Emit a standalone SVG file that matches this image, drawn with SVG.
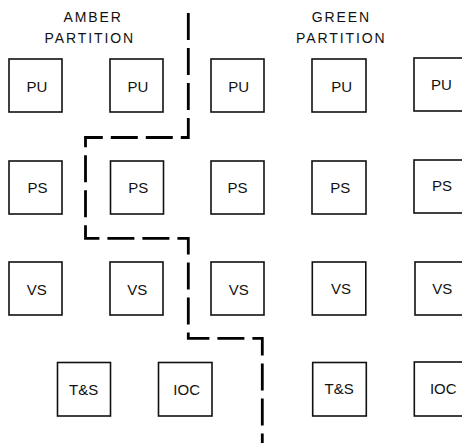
<svg xmlns="http://www.w3.org/2000/svg" width="462" height="443" viewBox="0 0 462 443">
<style>
.box{fill:#fff;stroke:#111;stroke-width:1.6}
.lbl{font-family:"Liberation Sans",Arial,sans-serif;font-size:15px;fill:#111;text-anchor:middle}
.hdr{font-family:"Liberation Sans",Arial,sans-serif;font-size:14px;fill:#111;letter-spacing:1.9px}
.part{fill:none;stroke:#000;stroke-width:2.8;stroke-dasharray:27 8}
</style>
<rect width="462" height="443" fill="#fff"/>
<g id="headers">
<text class="hdr" x="63.5" y="22">AMBER</text>
<text class="hdr" x="44.5" y="42.7">PARTITION</text>
<text class="hdr" x="311.7" y="22">GREEN</text>
<text class="hdr" x="296" y="42.7">PARTITION</text>
</g>
<g id="pu1"><rect class="box" x="9" y="59" width="53" height="53"/><text class="lbl" x="37" y="91.5">PU</text></g>
<g id="pu2"><rect class="box" x="110" y="59" width="53" height="53"/><text class="lbl" x="137.8" y="91.5">PU</text></g>
<g id="pu3"><rect class="box" x="211" y="59" width="53" height="53"/><text class="lbl" x="238.7" y="91.5">PU</text></g>
<g id="pu4"><rect class="box" x="312" y="59" width="54" height="53"/><text class="lbl" x="341.7" y="91.5">PU</text></g>
<g id="pu5"><rect class="box" x="414" y="58" width="54" height="53"/><text class="lbl" x="441.5" y="89.5">PU</text></g>
<g id="ps1"><rect class="box" x="9" y="161" width="53" height="53"/><text class="lbl" x="37.5" y="192.5">PS</text></g>
<g id="ps2"><rect class="box" x="110.5" y="161" width="53" height="53"/><text class="lbl" x="138.3" y="192.5">PS</text></g>
<g id="ps3"><rect class="box" x="211" y="161" width="53" height="53"/><text class="lbl" x="237.5" y="192.5">PS</text></g>
<g id="ps4"><rect class="box" x="312" y="161" width="54" height="53"/><text class="lbl" x="340.3" y="192.5">PS</text></g>
<g id="ps5"><rect class="box" x="414" y="160" width="54" height="53"/><text class="lbl" x="442" y="190.8">PS</text></g>
<g id="vs1"><rect class="box" x="9" y="262" width="53" height="53"/><text class="lbl" x="36.7" y="294.8">VS</text></g>
<g id="vs2"><rect class="box" x="110" y="262" width="53" height="53"/><text class="lbl" x="137.2" y="294.8">VS</text></g>
<g id="vs3"><rect class="box" x="211" y="262" width="53" height="53"/><text class="lbl" x="238.7" y="294.5">VS</text></g>
<g id="vs4"><rect class="box" x="312.3" y="262" width="53.5" height="53"/><text class="lbl" x="341" y="294.3">VS</text></g>
<g id="vs5"><rect class="box" x="415" y="262" width="54" height="53"/><text class="lbl" x="442.3" y="294">VS</text></g>
<g id="ts1"><rect class="box" x="57.5" y="362.5" width="53" height="53.5"/><text class="lbl" x="83.7" y="395">T&amp;S</text></g>
<g id="ioc1"><rect class="box" x="158.5" y="362.5" width="53.5" height="53.5"/><text class="lbl" x="186.7" y="395">IOC</text></g>
<g id="ts2"><rect class="box" x="312.7" y="362.5" width="53.6" height="53.5"/><text class="lbl" x="339.2" y="394.3">T&amp;S</text></g>
<g id="ioc2"><rect class="box" x="414.3" y="362" width="54" height="54"/><text class="lbl" x="443.3" y="394.3">IOC</text></g>
<g id="connectors">
<path class="part" d="M188.3,13 V137.5 H85.5 V238.3 H188.3 V338.3 H262.3 V445"/>
</g>
</svg>
